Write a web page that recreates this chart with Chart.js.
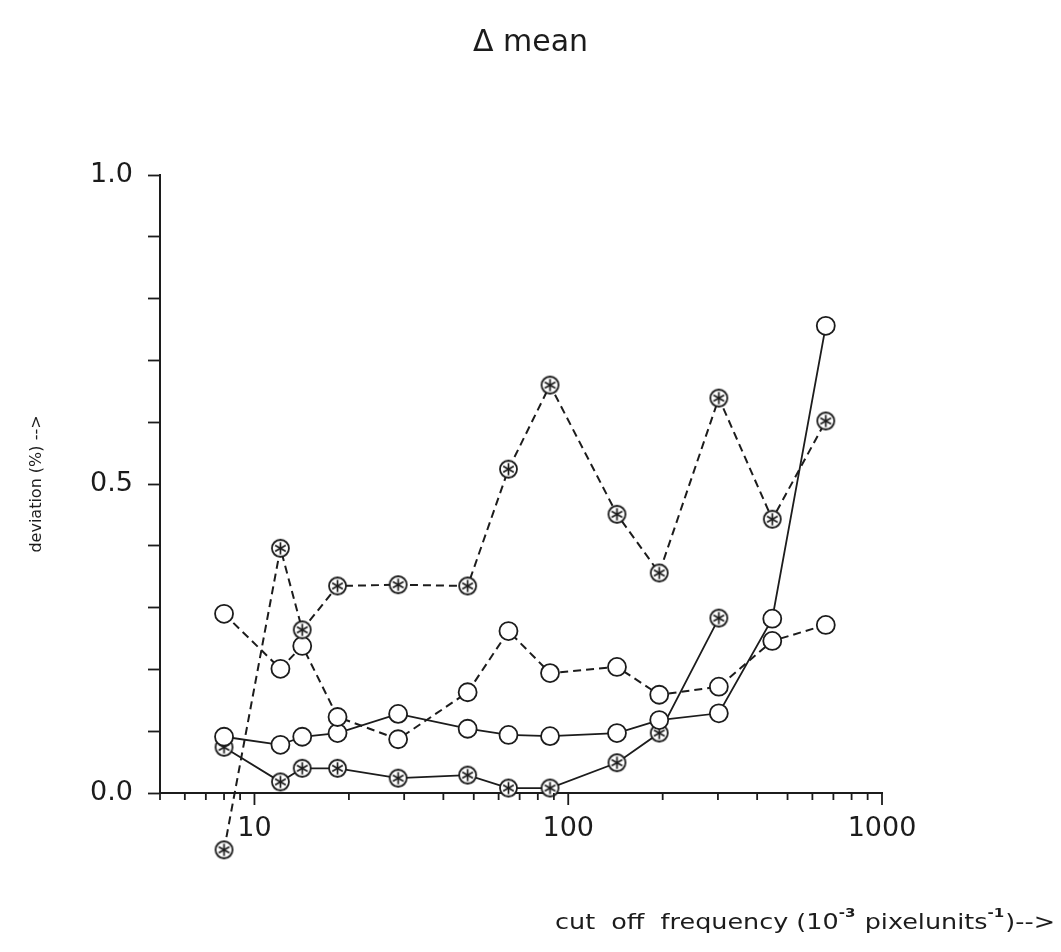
<!DOCTYPE html>
<html>
<head>
<meta charset="utf-8">
<script src="https://cdn.jsdelivr.net/npm/chart.js@4"></script>
<style>
  html, body { margin: 0; padding: 0; background: #fff; }
  #wrap { width: 1061px; height: 952px; }
</style>
</head>
<body>
<div id="wrap"><canvas id="meanChart"></canvas></div>
<script>
// cut off frequency (10^-3 pixelunits^-1)
const freq = [8, 12.1, 14.2, 18.4, 28.7, 47.8, 64.5, 87.5, 143, 195, 302, 447, 662];

// deviation (%) for each curve
const dashedStar   = [-0.092, 0.396, 0.264, 0.335, 0.337, 0.335, 0.524, 0.660, 0.451, 0.356, 0.639, 0.443, 0.602];
const dashedCircle = [0.290, 0.201, 0.238, 0.123, 0.087, 0.163, 0.262, 0.194, 0.204, 0.159, 0.172, 0.246, 0.272];
const solidCircle  = [0.091, 0.078, 0.091, 0.097, 0.128, 0.104, 0.094, 0.092, 0.097, 0.118, 0.129, 0.282, 0.756];
const solidStar    = [0.074, 0.018, 0.040, 0.040, 0.024, 0.029, 0.008, 0.008, 0.049, 0.097, 0.283];

// axis ticks
const xLabelled = [10, 100, 1000];
const yLabelled = [0, 0.5, 1.0];
const xTicks = [5, 6, 7, 8, 9, 10, 20, 30, 40, 50, 60, 70, 80, 90, 100,
                200, 300, 400, 500, 600, 700, 800, 900, 1000];

const ink = "#1c1c1c";
const fontName = "'DejaVu Sans', sans-serif";

function pairs(xs, ys) {
  return ys.map((y, i) => ({ x: xs[i], y: y }));
}

// circle with an asterisk inside (plotter marker)
function circledStar(r) {
  const s = Math.ceil(r * 2 + 4);
  const c = document.createElement("canvas");
  c.width = s;
  c.height = s;
  const g = c.getContext("2d");
  const m = s / 2;
  g.fillStyle = "#fff";
  g.strokeStyle = ink;
  g.lineWidth = 1.8;
  g.beginPath();
  g.arc(m, m, r, 0, Math.PI * 2);
  g.fill();
  g.stroke();
  g.lineWidth = 1.7;
  for (let k = 0; k < 3; k++) {
    const a = Math.PI / 2 + k * Math.PI / 3;
    const dx = Math.cos(a) * r * 0.72, dy = Math.sin(a) * r * 0.72;
    g.beginPath();
    g.moveTo(m + dx, m + dy);
    g.lineTo(m - dx, m - dy);
    g.stroke();
  }
  return c;
}

const starMark = circledStar(8.5);

function series(data, dashed, star) {
  return {
    data: data,
    borderColor: ink,
    borderWidth: dashed ? 2 : 1.8,
    borderDash: dashed ? [8, 5] : [],
    tension: 0,
    fill: false,
    clip: false,
    pointStyle: star ? starMark : "circle",
    pointRadius: 9,
    pointBorderWidth: 1.8,
    pointBorderColor: ink,
    pointBackgroundColor: "#fff",
  };
}

// markers that fall below the axis are skipped by Chart.js, draw them here
const outsidePoints = {
  id: "outsidePoints",
  afterDatasetsDraw(chart) {
    const area = chart.chartArea;
    const ctx = chart.ctx;
    chart.data.datasets.forEach((ds, i) => {
      chart.getDatasetMeta(i).data.forEach((pt) => {
        if (pt.y > area.bottom + 1 || pt.y < area.top - 1) {
          ctx.save();
          Chart.helpers.drawPoint(ctx, pt.options, pt.x, pt.y);
          ctx.restore();
        }
      });
    });
  },
};

// ticks under the x axis, title, x axis label with superscripts
const decor = {
  id: "decor",
  afterDraw(chart) {
    const ctx = chart.ctx;
    const xs = chart.scales.x;
    const area = chart.chartArea;
    ctx.save();
    ctx.strokeStyle = ink;
    ctx.lineWidth = 1.8;
    xTicks.forEach((v) => {
      const px = xs.getPixelForValue(v);
      const len = xLabelled.includes(v) ? 12 : 7;
      ctx.beginPath();
      ctx.moveTo(px, area.bottom);
      ctx.lineTo(px, area.bottom + len);
      ctx.stroke();
    });

    ctx.fillStyle = ink;
    ctx.textBaseline = "alphabetic";
    ctx.textAlign = "center";
    ctx.font = "30px " + fontName;
    ctx.fillText("\u0394 mean", chart.width / 2, 51);

    // cut off frequency (10^-3 pixelunits^-1)-->
    const parts = [
      ["cut  off  frequency (10", false],
      ["-3", true],
      [" pixelunits", false],
      ["-1", true],
      [")-->", false],
    ];
    const fontOf = (sup) => (sup ? "bold 13px " : "22px ") + fontName;
    ctx.textAlign = "left";
    let total = 0;
    parts.forEach(([t, sup]) => {
      ctx.font = fontOf(sup);
      total += ctx.measureText(t).width + (sup ? 1 : 0);
    });
    const left = 555, right = 1055, base = 929;
    const sx = (right - left) / total;
    ctx.translate(left, base);
    ctx.scale(sx, 1);
    let x = 0;
    parts.forEach(([t, sup]) => {
      ctx.font = fontOf(sup);
      ctx.fillText(t, x, sup ? -12 : 0);
      x += ctx.measureText(t).width + (sup ? 1 : 0);
    });
    ctx.restore();
  },
};

document.addEventListener("DOMContentLoaded", () => {
  const meanChart = new Chart("meanChart", {
    type: "line",
    data: {
      datasets: [
        series(pairs(freq, dashedStar), true, true),
        series(pairs(freq, dashedCircle), true, false),
        series(pairs(freq, solidCircle), false, false),
        series(pairs(freq, solidStar), false, true),
      ],
    },
    options: {
      responsive: true,
      maintainAspectRatio: false,
      animation: false,
      events: [],
      layout: { padding: { top: 175, right: 179, bottom: 99, left: 0 } },
      plugins: {
        legend: { display: false },
        tooltip: { enabled: false },
        title: { display: false },
      },
      scales: {
        x: {
          type: "logarithmic",
          min: 5,
          max: 1000,
          afterBuildTicks: (scale) => {
            scale.ticks = xTicks.map((v) => ({ value: v }));
          },
          afterFit: (scale) => {
            scale.height = 60;
          },
          grid: { display: false },
          border: { display: true, color: ink, width: 2 },
          ticks: {
            autoSkip: false,
            maxRotation: 0,
            padding: 12,
            color: ink,
            font: { family: fontName, size: 27 },
            callback: (v) => (xLabelled.includes(v) ? String(v) : ""),
          },
        },
        y: {
          min: 0,
          max: 1.0,
          afterFit: (scale) => {
            scale.width = 160;
          },
          grid: {
            drawOnChartArea: false,
            drawTicks: true,
            tickLength: 12,
            tickColor: ink,
            tickWidth: 1.8,
          },
          border: { display: true, color: ink, width: 2 },
          ticks: {
            stepSize: 0.1,
            autoSkip: false,
            padding: 15,
            color: ink,
            font: { family: fontName, size: 27 },
            callback: (v) =>
              yLabelled.some((l) => Math.abs(l - v) < 1e-6) ? Number(v).toFixed(1) : "",
          },
          title: {
            display: true,
            text: "deviation (%) -->",
            color: ink,
            font: { family: fontName, size: 16 },
            padding: { top: 27, bottom: 0 },
          },
        },
      },
    },
    plugins: [outsidePoints, decor],
  });
});
</script>
</body>
</html>
